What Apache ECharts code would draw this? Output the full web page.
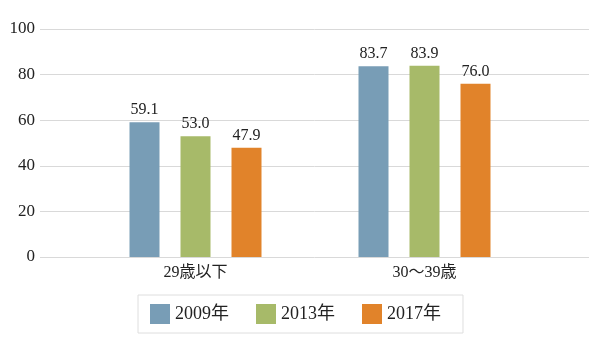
<!DOCTYPE html>
<html><head><meta charset="utf-8">
<script src="https://cdn.jsdelivr.net/npm/echarts@6/dist/echarts.min.js"></script>
<style>html,body{margin:0;padding:0;background:#fff}#c{width:600px;height:349px}</style>
</head><body><div id="c"></div>
<script>
const categories = ['29歳以下', '30～39歳'];
const seriesNames = ['2009年', '2013年', '2017年'];
const values2009 = [59.1, 83.7];
const values2013 = [53.0, 83.9];
const values2017 = [47.9, 76.0];
const yTicks = [0, 20, 40, 60, 80, 100];

const colors = ['#789db6', '#a7ba69', '#e1832a'];
const serif = "'Liberation Serif', 'Noto Sans CJK JP', serif";
const allValues = [values2009, values2013, values2017];

const chart = echarts.init(document.getElementById('c'), null, {renderer: 'canvas'});
chart.setOption({
  animation: false,
  backgroundColor: '#fff',
  color: colors,
  textStyle: {fontFamily: serif},
  grid: [
    {left: 40, right: 11, top: 29, bottom: 92},
    {left: 81, right: 61, top: 29, bottom: 92}
  ],
  xAxis: [
    {gridIndex: 0, type: 'value', show: false, min: 0, max: 1},
    {gridIndex: 1, type: 'category', data: categories,
     axisLine: {show: false}, axisTick: {show: false},
     axisLabel: {margin: 8, fontSize: 16, color: '#222', fontFamily: serif}}
  ],
  yAxis: [
    {gridIndex: 0, type: 'value', min: yTicks[0], max: yTicks[yTicks.length - 1], interval: 20,
     axisLine: {show: false}, axisTick: {show: false},
     axisLabel: {margin: 5, fontSize: 17, color: '#222', fontFamily: serif},
     splitLine: {lineStyle: {color: '#d9d9d9', width: 1}}},
    {gridIndex: 1, type: 'value', min: 0, max: 100, show: false, splitLine: {show: false}}
  ],
  legend: {
    left: 138, top: 295,
    padding: [9, 22, 9, 12],
    borderColor: '#dedede', borderWidth: 1,
    itemWidth: 20, itemHeight: 20, itemGap: 27,
    icon: 'rect',
    textStyle: {fontSize: 18, color: '#222', fontFamily: serif},
    data: seriesNames
  },
  series: seriesNames.map((name, i) => ({
    name: name,
    type: 'bar',
    xAxisIndex: 1, yAxisIndex: 1,
    data: allValues[i],
    barWidth: 30,
    barGap: '70%',
    itemStyle: {color: colors[i]},
    label: {show: true, position: 'top', distance: 4, fontSize: 16, color: '#222', fontFamily: serif,
            formatter: p => p.value.toFixed(1)}
  }))
});
</script></body></html>
